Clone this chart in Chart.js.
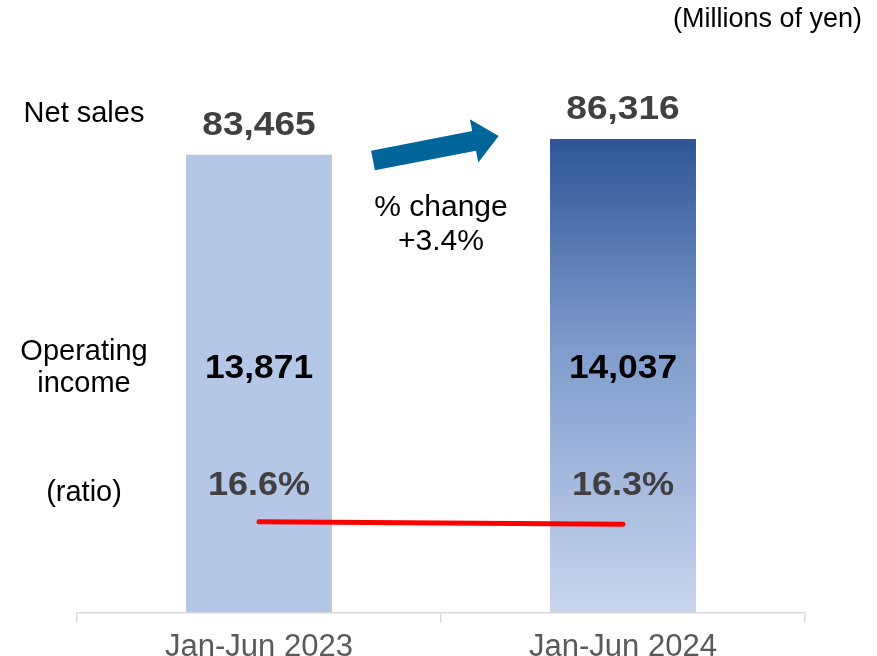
<!DOCTYPE html>
<html>
<head>
<meta charset="utf-8">
<title>Net sales and operating income, Jan-Jun</title>
<script src="https://cdn.jsdelivr.net/npm/chart.js@4/dist/chart.umd.min.js"></script>
<style>
  html, body { margin: 0; padding: 0; background: #ffffff; }
  #wrap { width: 877px; height: 656px; position: relative; }
</style>
</head>
<body>
<div id="wrap"><canvas id="c" width="877" height="656"></canvas></div>
<script>
// Half-year results (millions of yen)
const categories = ['Jan-Jun 2023', 'Jan-Jun 2024'];
const netSales = [83465, 86316];
const operatingIncome = [13871, 14037];
const operatingRatio = [16.6, 16.3];
const salesChangePct = 3.4;
const unitNote = '(Millions of yen)';
const rowLabels = { sales: ['Net sales'], income: ['Operating', 'income'], ratio: ['(ratio)'] };

const FONT = "'Liberation Sans', Arial, Helvetica, sans-serif";
const fmtInt = v => v.toLocaleString('en-US');
const fmtPct = v => v.toFixed(1) + '%';

// Second bar fades from navy at its top to pale blue at the baseline
function barFill(ctx) {
  const chart = ctx.chart;
  if (ctx.dataIndex === 0) return '#B4C7E7';
  const area = chart.chartArea;
  if (!area) return '#6F8CC4';
  const y = chart.scales.y;
  const top = y.getPixelForValue(netSales[ctx.dataIndex]);
  const g = chart.ctx.createLinearGradient(0, top, 0, area.bottom);
  g.addColorStop(0, '#2F5597');
  g.addColorStop(0.45, '#819DCD');
  g.addColorStop(1, '#C9D6EE');
  return g;
}

// Text drawn slightly widened, as in the slide's typography
function wideText(c, text, x, y, sx) {
  c.save();
  c.translate(x, y);
  c.scale(sx, 1);
  c.fillText(text, 0, 0);
  c.restore();
}

const annotations = {
  id: 'annotations',
  afterDatasetsDraw(chart) {
    const c = chart.ctx;
    const bars = chart.getDatasetMeta(0).data;
    const midX = (bars[0].x + bars[1].x) / 2;
    c.save();
    c.textAlign = 'center';
    c.textBaseline = 'alphabetic';

    // Unit note, top right
    c.font = '27px ' + FONT;
    c.fillStyle = '#000000';
    c.textAlign = 'right';
    wideText(c, unitNote, 862, 27, 1.0);
    c.textAlign = 'center';

    // Row captions on the left
    const leftX = 84;
    c.font = '29px ' + FONT;
    wideText(c, rowLabels.sales[0], leftX, 122, 1.0);
    wideText(c, rowLabels.income[0], leftX, 360, 1.0);
    wideText(c, rowLabels.income[1], leftX, 392, 1.0);
    wideText(c, rowLabels.ratio[0], leftX, 501, 1.0);

    // Net sales above each bar
    c.font = 'bold 34px ' + FONT;
    c.fillStyle = '#404040';
    bars.forEach((b, i) => wideText(c, fmtInt(netSales[i]), b.x, b.y - 20, 1.09));

    // Operating income inside the bars
    c.fillStyle = '#000000';
    bars.forEach((b, i) => wideText(c, fmtInt(operatingIncome[i]), b.x, 378, 1.04));

    // Operating margin
    c.fillStyle = '#404040';
    bars.forEach((b, i) => wideText(c, fmtPct(operatingRatio[i]), b.x, 495, 1.06));

    // Change caption between the bars
    c.font = '30px ' + FONT;
    c.fillStyle = '#000000';
    wideText(c, '% change', midX, 216, 1.0);
    wideText(c, '+' + salesChangePct.toFixed(1) + '%', midX, 250, 1.0);

    // Growth arrow
    c.translate(373, 160.5);
    c.rotate(Math.atan2(-24.5, 126));
    const len = 128, head = 25, sw = 10, hw = 22;
    c.beginPath();
    c.moveTo(0, -sw);
    c.lineTo(len - head, -sw);
    c.lineTo(len - head, -hw);
    c.lineTo(len, 0);
    c.lineTo(len - head, hw);
    c.lineTo(len - head, sw);
    c.lineTo(0, sw);
    c.closePath();
    c.fillStyle = '#00669A';
    c.fill();
    c.restore();
  }
};

new Chart(document.getElementById('c'), {
  data: {
    labels: categories,
    datasets: [
      {
        type: 'bar',
        label: 'Net sales',
        data: netSales,
        backgroundColor: barFill,
        borderWidth: 0,
        categoryPercentage: 1,
        barPercentage: 0.401,
        yAxisID: 'y',
        order: 2
      },
      {
        type: 'line',
        label: 'Operating margin',
        data: operatingRatio,
        borderColor: '#FF0000',
        borderWidth: 5,
        borderCapStyle: 'round',
        pointRadius: 0,
        fill: false,
        tension: 0,
        yAxisID: 'y2',
        order: 1
      }
    ]
  },
  options: {
    responsive: false,
    animation: false,
    events: [],
    layout: { padding: { left: 77, right: 72, top: 64, bottom: 0 } },
    plugins: { legend: { display: false }, tooltip: { enabled: false } },
    scales: {
      x: {
        offset: true,
        grid: {
          offset: true,
          drawOnChartArea: false,
          drawTicks: true,
          tickLength: 10,
          color: '#D9D9D9',
          lineWidth: 1.5
        },
        border: { display: true, color: '#D9D9D9', width: 1.5 },
        ticks: {
          color: '#595959',
          padding: 6,
          font: { family: FONT, size: 31 }
        },
        afterFit(scale) { scale.height = 43.5; }
      },
      y: { display: false, min: 0, max: 100000 },
      y2: { display: false, min: 6, max: 70 }
    }
  },
  plugins: [annotations]
});
</script>
</body>
</html>
